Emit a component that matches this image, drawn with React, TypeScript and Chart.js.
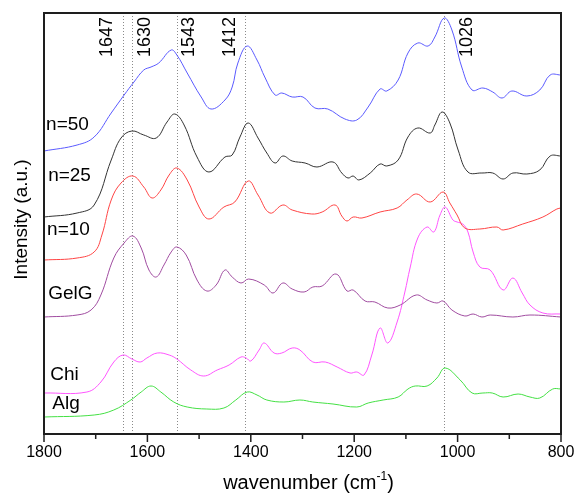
import React, { useEffect, useRef } from "react";
import { Chart, registerables } from "chart.js";

Chart.register(...registerables);

// [wavenumber (cm-1), intensity (a.u., offset stacked)]
const n50: number[][] = [
  [1800, 283], [1736, 289], [1703, 297], [1670, 321], [1645, 339], [1626, 352], [1607, 364],
  [1593, 367], [1578, 371], [1554, 384], [1543, 379], [1523, 361], [1496, 337], [1477, 325],
  [1450, 334], [1436, 347], [1425, 371], [1407, 388], [1388, 374], [1373, 357], [1353, 339],
  [1340, 341], [1320, 337], [1299, 337], [1276, 326], [1251, 325], [1218, 315], [1195, 314],
  [1173, 327], [1150, 345], [1137, 343], [1115, 354], [1096, 381], [1077, 391], [1057, 388],
  [1044, 397], [1026, 416], [1011, 404], [992, 367], [972, 344], [951, 346], [932, 342],
  [914, 336], [895, 343], [866, 338], [841, 344], [821, 359], [800, 359],
];

const n25: number[][] = [
  [1800, 217], [1736, 221], [1703, 229], [1670, 274], [1651, 296], [1630, 303], [1607, 299],
  [1583, 296], [1562, 312], [1547, 320], [1529, 309], [1504, 277], [1481, 262], [1450, 277],
  [1436, 279], [1421, 297], [1405, 311], [1386, 296], [1369, 281], [1353, 271], [1338, 278],
  [1320, 273], [1295, 271], [1272, 267], [1241, 272], [1224, 261], [1212, 256], [1202, 258],
  [1191, 254], [1169, 261], [1150, 270], [1137, 268], [1115, 274], [1096, 297], [1077, 306],
  [1053, 301], [1044, 309], [1030, 322], [1015, 311], [999, 284], [980, 262], [953, 261],
  [932, 261], [912, 255], [893, 261], [866, 260], [841, 264], [821, 278], [800, 278],
];

const n10: number[][] = [
  [1800, 174], [1736, 176], [1703, 182], [1688, 199], [1670, 234], [1651, 251], [1628, 258],
  [1607, 247], [1591, 236], [1574, 244], [1558, 259], [1543, 266], [1523, 254], [1500, 227],
  [1481, 215], [1452, 227], [1431, 232], [1405, 253], [1386, 239], [1363, 221], [1338, 229],
  [1320, 224], [1282, 220], [1262, 222], [1237, 229], [1224, 218], [1214, 213], [1202, 217],
  [1185, 216], [1150, 222], [1117, 226], [1098, 234], [1079, 240], [1053, 232], [1028, 242],
  [1015, 231], [1001, 219], [986, 206], [957, 205], [924, 207], [912, 204], [874, 210],
  [835, 217], [808, 225], [800, 226],
];

const gelG: number[][] = [
  [1800, 117], [1736, 119], [1709, 124], [1690, 139], [1665, 176], [1645, 191], [1628, 198],
  [1612, 186], [1597, 164], [1583, 157], [1568, 169], [1554, 182], [1543, 187], [1525, 179],
  [1504, 154], [1485, 143], [1467, 149], [1450, 164], [1436, 157], [1419, 151], [1404, 155],
  [1374, 149], [1357, 141], [1338, 151], [1320, 145], [1297, 142], [1280, 147], [1262, 148],
  [1235, 160], [1214, 143], [1202, 144], [1179, 133], [1160, 132], [1135, 126], [1111, 129],
  [1080, 139], [1059, 134], [1040, 131], [1028, 133], [1011, 124], [986, 118], [970, 120],
  [953, 117], [937, 119], [893, 117], [860, 119], [800, 117],
];

const chi: number[][] = [
  [1800, 41], [1717, 42], [1690, 52], [1665, 72], [1647, 79], [1630, 75], [1614, 72],
  [1601, 76], [1581, 81], [1558, 79], [1543, 75], [1516, 64], [1491, 58], [1465, 64],
  [1442, 69], [1419, 77], [1409, 76], [1400, 73], [1384, 84], [1374, 91], [1355, 81],
  [1340, 81], [1320, 86], [1305, 84], [1280, 72], [1256, 72], [1233, 67], [1208, 61],
  [1195, 62], [1181, 59], [1166, 79], [1150, 106], [1135, 91], [1117, 112], [1102, 142],
  [1092, 166], [1077, 196], [1059, 207], [1046, 202], [1034, 219], [1024, 227], [1009, 214],
  [1001, 212], [990, 210], [980, 202], [970, 182], [957, 167], [937, 164], [912, 144],
  [893, 156], [875, 141], [860, 129], [835, 121], [800, 120],
];

const alg: number[][] = [
  [1800, 17], [1703, 19], [1665, 24], [1632, 34], [1612, 42], [1593, 48], [1574, 42],
  [1549, 32], [1523, 27], [1485, 25], [1452, 26], [1429, 34], [1407, 42], [1388, 39],
  [1369, 34], [1336, 32], [1305, 34], [1280, 32], [1241, 30], [1195, 27], [1173, 31],
  [1144, 34], [1115, 37], [1096, 45], [1082, 48], [1059, 48], [1040, 56], [1024, 66],
  [995, 54], [972, 41], [951, 41], [933, 41], [912, 37], [883, 40], [860, 37], [841, 36],
  [816, 45], [800, 45],
];

const seriesNames = ["n=50", "n=25", "n=10", "GelG", "Chi", "Alg"];
const seriesColors = ["#5a5aff", "#333333", "#ff4444", "#a04ca0", "#ff55ff", "#44e044"];
const seriesData = [n50, n25, n10, gelG, chi, alg];

// label anchor [wavenumber, intensity] for each curve name
const labelAnchors: number[][] = [
  [1796, 309], [1792, 258], [1794, 204], [1792, 140], [1788, 59], [1784, 30],
];

const peakLines = [1647, 1630, 1543, 1412, 1026];
const peakLabelOffsets = [-16, 13, 12, -15, 23];

const xTicksMajor = [1800, 1600, 1400, 1200, 1000, 800];
const xTicksMinor = [1700, 1500, 1300, 1100, 900];

const FONT = "'Liberation Sans', Arial, Helvetica, sans-serif";

const overlayPlugin = {
  id: "overlay",
  beforeDatasetsDraw(chart: any) {
    const { ctx, chartArea } = chart;
    const xs = chart.scales.x;
    ctx.save();
    ctx.strokeStyle = "#8a8a8a";
    ctx.lineWidth = 1;
    ctx.setLineDash([1, 2]);
    peakLines.forEach((w) => {
      const px = Math.round(xs.getPixelForValue(w)) + 0.5;
      ctx.beginPath();
      ctx.moveTo(px, chartArea.top);
      ctx.lineTo(px, chartArea.bottom);
      ctx.stroke();
    });
    ctx.restore();
  },
  afterDraw(chart: any) {
    const { ctx, chartArea } = chart;
    const xs = chart.scales.x;
    const ys = chart.scales.y;
    ctx.save();
    // frame
    ctx.strokeStyle = "#1e1e1e";
    ctx.lineWidth = 2;
    ctx.strokeRect(chartArea.left, chartArea.top, chartArea.right - chartArea.left, chartArea.bottom - chartArea.top);
    // ticks
    ctx.lineWidth = 1.5;
    ctx.beginPath();
    xTicksMajor.forEach((v) => {
      const px = xs.getPixelForValue(v);
      ctx.moveTo(px, chartArea.bottom);
      ctx.lineTo(px, chartArea.bottom + 8);
    });
    xTicksMinor.forEach((v) => {
      const px = xs.getPixelForValue(v);
      ctx.moveTo(px, chartArea.bottom);
      ctx.lineTo(px, chartArea.bottom + 5);
    });
    ctx.stroke();

    // peak labels
    ctx.fillStyle = "#000";
    ctx.font = `18px ${FONT}`;
    ctx.textAlign = "center";
    ctx.textBaseline = "middle";
    peakLines.forEach((w, i) => {
      const px = xs.getPixelForValue(w) + peakLabelOffsets[i];
      const text = String(w);
      const tw = ctx.measureText(text).width;
      ctx.save();
      ctx.translate(px, chartArea.top + 4 + tw / 2);
      ctx.rotate(-Math.PI / 2);
      ctx.fillText(text, 0, 0);
      ctx.restore();
    });

    // curve labels
    ctx.font = `19px ${FONT}`;
    ctx.textAlign = "left";
    ctx.textBaseline = "middle";
    seriesNames.forEach((name, i) => {
      const [w, v] = labelAnchors[i];
      ctx.fillText(name, xs.getPixelForValue(w), ys.getPixelForValue(v));
    });

    // y title
    ctx.font = `19px ${FONT}`;
    ctx.textAlign = "center";
    ctx.textBaseline = "middle";
    ctx.save();
    ctx.translate(22, (chartArea.top + chartArea.bottom) / 2 - 4);
    ctx.rotate(-Math.PI / 2);
    ctx.fillText("Intensity (a.u.)", 0, 0);
    ctx.restore();

    // x title with superscript
    const main = "wavenumber (cm";
    const sup = "-1";
    const end = ")";
    ctx.font = `20px ${FONT}`;
    const wMain = ctx.measureText(main).width;
    const wEnd = ctx.measureText(end).width;
    ctx.font = `12px ${FONT}`;
    const wSup = ctx.measureText(sup).width;
    const total = wMain + wSup + wEnd;
    const cx = (chartArea.left + chartArea.right) / 2 + 6;
    let x0 = cx - total / 2;
    const yBase = 489;
    ctx.textAlign = "left";
    ctx.textBaseline = "alphabetic";
    ctx.font = `20px ${FONT}`;
    ctx.fillText(main, x0, yBase);
    x0 += wMain;
    ctx.font = `12px ${FONT}`;
    ctx.fillText(sup, x0, yBase - 9);
    x0 += wSup;
    ctx.font = `20px ${FONT}`;
    ctx.fillText(end, x0, yBase);
    ctx.restore();
  },
};

export default function App() {
  const canvasRef = useRef<HTMLCanvasElement | null>(null);

  useEffect(() => {
    const canvas = canvasRef.current;
    if (!canvas) return;
    const chart = new Chart(canvas, {
      type: "line",
      data: {
        datasets: seriesData.map((d, i) => ({
          label: seriesNames[i],
          data: d.map(([x, y]) => ({ x, y })),
          borderColor: seriesColors[i],
          backgroundColor: seriesColors[i],
          borderWidth: 1,
          pointRadius: 0,
          fill: false,
          tension: 0.4,
        })),
      },
      options: {
        responsive: false,
        animation: false,
        devicePixelRatio: 1,
        layout: { padding: { top: 13, right: 13, left: 0, bottom: 0 } },
        plugins: {
          legend: { display: false },
          tooltip: { enabled: false },
        },
        scales: {
          x: {
            type: "linear",
            reverse: true,
            min: 800,
            max: 1800,
            grid: { display: false, tickLength: 0 },
            border: { display: false },
            ticks: {
              stepSize: 200,
              padding: 9,
              color: "#000",
              font: { family: FONT, size: 16 },
              maxRotation: 0,
              autoSkip: false,
              callback: (v: any) => String(v),
            },
            afterFit: (s: any) => {
              s.height = 63;
              s.paddingLeft = 0;
              s.paddingRight = 0;
            },
          },
          y: {
            type: "linear",
            min: 0,
            max: 421,
            grid: { display: false },
            border: { display: false },
            ticks: { display: false },
            afterFit: (s: any) => {
              s.width = 44;
            },
          },
        },
      },
      plugins: [overlayPlugin],
    });
    return () => chart.destroy();
  }, []);

  return (
    <div style={{ position: "fixed", left: 0, top: 0, width: 574, height: 497, background: "#fff" }}>
      <canvas ref={canvasRef} width={574} height={497} style={{ display: "block" }} />
    </div>
  );
}
